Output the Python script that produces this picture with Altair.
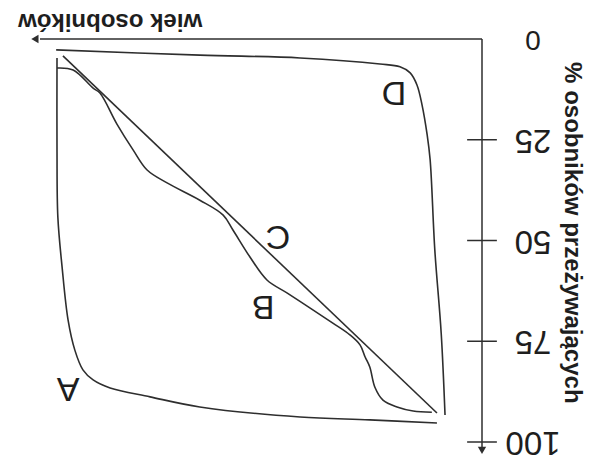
import altair as alt
import pandas as pd

# ---- data (age in arbitrary units 0-100, % survivors 0-100) ----
A_age = [10.6, 26.4, 42.8, 66.4, 78.1, 87.5, 91.5, 93.9, 95.8, 97.4, 98.8, 99.8, 100.0, 100.0]
A_surv = [95.3, 94.5, 93.8, 91.3, 88.8, 86.6, 84.6, 82.1, 77.2, 69.7, 56.6, 44.2, 27.5, 4.7]

B_age = [11.8, 16.2, 20.0, 23.3, 25.2, 26.4, 27.5, 28.7, 31.1, 35.1, 39.8, 45.9, 50.6, 54.6,
         58.6, 60.9, 66.4, 74.1, 78.8, 82.1, 85.9, 89.9, 91.5, 96.2, 100.0]
B_surv = [92.6, 92.3, 91.3, 89.6, 86.4, 81.4, 78.9, 75.9, 73.4, 70.5, 67.2, 63.0, 59.8, 54.1,
          47.4, 43.7, 40.0, 35.7, 32.5, 27.5, 21.1, 13.4, 12.2, 7.7, 7.2]

C_age = [10.6, 98.6]
C_surv = [92.8, 4.2]

D_age = [8.7, 9.6, 11.1, 12.2, 12.9, 14.1, 15.3, 16.9, 19.3, 24.0, 42.8, 66.4, 100.2]
D_surv = [93.3, 73.0, 52.4, 30.0, 23.8, 16.4, 11.4, 8.4, 6.9, 6.2, 4.7, 4.0, 2.7]

curve_labels = ["A", "B", "C", "D"]
label_age = [97.4, 51.5, 48.0, 20.7]
label_surv = [86.6, 66.3, 48.9, 13.2]

tick_values = [25, 50, 75, 100]
tick_labels = [0, 25, 50, 75, 100]

x_title = "wiek osobników"
y_title = "% osobników przeżywających"

# ---- tables ----
rows = []
for name, ages, survs in [("A", A_age, A_surv), ("B", B_age, B_surv),
                          ("C", C_age, C_surv), ("D", D_age, D_surv)]:
    for i, (a, s) in enumerate(zip(ages, survs)):
        rows.append({"curve": name, "i": i, "age": a, "surv": s})
curves = pd.DataFrame(rows)
labels = pd.DataFrame({"txt": curve_labels, "age": label_age, "surv": label_surv})
ticks = pd.DataFrame({"surv": tick_values})
tlabels = pd.DataFrame({"surv": tick_labels, "txt": [str(v) for v in tick_labels]})
one = pd.DataFrame({"k": [0]})

W, H = 578, 455
XS = alt.Scale(domain=[0, 100], range=[474, 49], nice=False, zero=False)
YS = alt.Scale(domain=[0, 100], range=[31, 434], nice=False, zero=False)
INK = "#2e2e2e"
FONT = "Liberation Sans"


def X(field=None, datum=None):
    if datum is not None:
        return alt.X(datum=datum, type="quantitative", scale=XS, axis=None)
    return alt.X(field, type="quantitative", scale=XS, axis=None)


def Y(field=None, datum=None):
    if datum is not None:
        return alt.Y(datum=datum, type="quantitative", scale=YS, axis=None)
    return alt.Y(field, type="quantitative", scale=YS, axis=None)


lines = alt.Chart(curves).mark_line(
    interpolate="catmull-rom", color=INK, strokeWidth=1.6
).encode(x=X("age"), y=Y("surv"), detail="curve:N", order="i:Q")

curve_text = alt.Chart(labels).mark_text(
    angle=180, font=FONT, fontSize=34, color="#1e1e1e", align="center", baseline="middle"
).encode(x=X("age"), y=Y("surv"), text="txt:N")

# axes (drawn upside-down like the reference)
h_axis = alt.Chart(one).mark_rule(color=INK, strokeWidth=1.5).encode(
    x=X(datum=0), x2=alt.X2(datum=104), y=Y(datum=0))
h_arrow = alt.Chart(one).mark_point(
    shape="triangle-left", filled=True, size=70, color=INK, opacity=1
).encode(x=X(datum=105.2), y=Y(datum=0))
v_axis = alt.Chart(one).mark_rule(color=INK, strokeWidth=1.5).encode(
    x=X(datum=0), y=Y(datum=0), y2=alt.Y2(datum=101.7))
v_arrow = alt.Chart(one).mark_point(
    shape="triangle-down", filled=True, size=70, color=INK, opacity=1
).encode(x=X(datum=0), y=Y(datum=102.1))

tick_marks = alt.Chart(ticks).mark_rule(color=INK, strokeWidth=1.5).encode(
    x=X(datum=3.5), x2=alt.X2(datum=-3.5), y=Y("surv"))

tick_text = alt.Chart(tlabels).mark_text(
    angle=180, font=FONT, color="#1e1e1e", align="center", baseline="middle"
).encode(
    x=X(datum=-12), y=Y("surv"), text="txt:N",
    size=alt.condition("datum.surv == 0", alt.value(28), alt.value(33)),
)

x_title_mark = alt.Chart(one).mark_text(
    text=x_title, angle=180, font=FONT, fontWeight="bold", fontSize=24,
    color="#1e1e1e", align="center", baseline="alphabetic"
).encode(x=X(datum=87.5), y=Y(datum=-6.3))

y_title_mark = alt.Chart(one).mark_text(
    text=y_title, angle=90, font=FONT, fontWeight="bold", fontSize=24,
    color="#1e1e1e", align="center", baseline="middle"
).encode(x=X(datum=-21.2), y=Y(datum=48.1))

chart = alt.layer(
    lines, curve_text, h_axis, h_arrow, v_axis, v_arrow, tick_marks, tick_text,
    x_title_mark, y_title_mark
).properties(
    width=W, height=H, padding=0,
    autosize=alt.AutoSizeParams(type="none"),
    background="white",
).configure_view(stroke=None)

chart.save("out.html", embed_options={"renderer": "svg", "actions": False})
